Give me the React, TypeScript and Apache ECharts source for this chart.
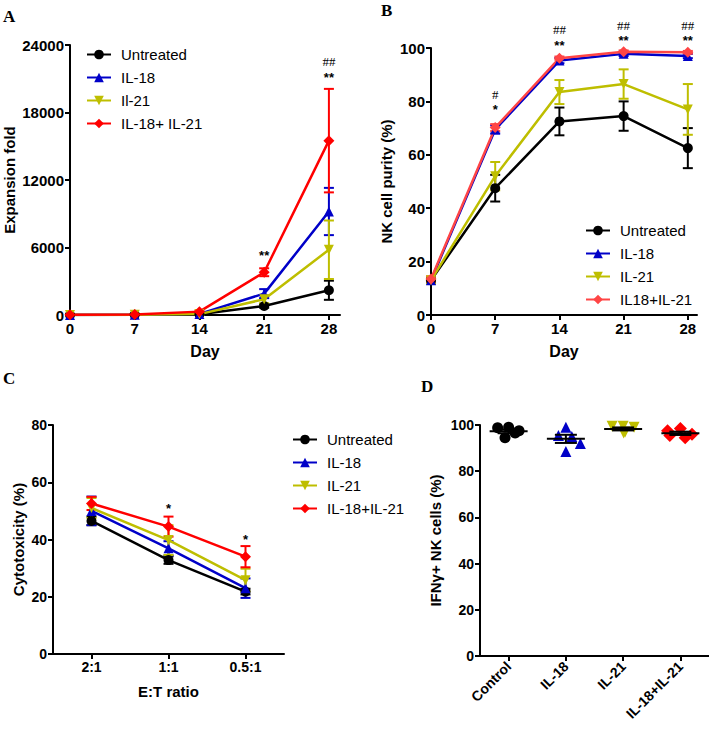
import React, { useEffect, useRef } from 'react';
import * as echarts from 'echarts';

// ---------- data ----------
const days = [0, 7, 14, 21, 28];
const dayTicks = [0, 7, 14, 21, 28];

// Panel A: expansion fold (mean, sem)
const expUntreated = [10, 20, 60, 800, 2200];
const expUntreatedErr = [0, 0, 50, 150, 850];
const expIL18 = [10, 20, 100, 1900, 9200];
const expIL18Err = [0, 0, 50, 400, 2100];
const expIL21 = [10, 20, 80, 1400, 5800];
const expIL21Err = [0, 0, 50, 350, 2600];
const expCombo = [20, 50, 300, 3800, 15500];
const expComboErr = [0, 0, 80, 350, 4600];
const annotA = [
  { x: 21, y: 5250, t: '**', serif: false },
  { x: 28, y: 22500, t: '##', serif: true },
  { x: 28, y: 21150, t: '**', serif: false },
];

// Panel B: NK purity
const purUntreated = [13, 47.5, 72.5, 74.5, 62.5];
const purUntreatedErr = [1.2, 5, 5.2, 5.5, 7.5];
const purIL18 = [13, 69.5, 95.3, 97.8, 97];
const purIL18Err = [1, 1.5, 1, 0.8, 0.8];
const purIL21 = [13, 52, 83.5, 86.5, 77];
const purIL21Err = [1, 5.3, 4.5, 5.5, 9.5];
const purCombo = [13.5, 70.2, 96.2, 98.6, 98.4];
const purComboErr = [1, 1.3, 0.6, 0.5, 0.5];
const annotB = [
  { x: 7, y: 82.4, t: '#', serif: true },
  { x: 7, y: 77.0, t: '*', serif: false },
  { x: 14, y: 107.1, t: '##', serif: true },
  { x: 14, y: 100.9, t: '**', serif: false },
  { x: 21, y: 108.6, t: '##', serif: true },
  { x: 21, y: 102.8, t: '**', serif: false },
  { x: 28, y: 108.6, t: '##', serif: true },
  { x: 28, y: 102.8, t: '**', serif: false },
];

// Panel C: cytotoxicity
const ratios = ['2:1', '1:1', '0.5:1'];
const cytUntreated = [46.5, 32.8, 21.8];
const cytUntreatedErr = [1.5, 1.3, 1];
const cytIL18 = [50, 36.9, 23];
const cytIL18Err = [5, 2.5, 3.4];
const cytIL21 = [51, 39.8, 25.8];
const cytIL21Err = [3.5, 5.2, 4];
const cytCombo = [52.6, 44.5, 34];
const cytComboErr = [2.3, 3.5, 3.7];
const annotC = [
  { x: 1, y: 51, t: '*', serif: false },
  { x: 2, y: 40, t: '*', serif: false },
];

// Panel D: IFNg+ NK cells
const groupsD = ['Control', 'IL-18', 'IL-21', 'IL-18+IL-21'];
const ifnControl = [99, 98.8, 97.5, 96.5, 94.5];
const ifnIL18 = [99, 95.5, 95, 92, 88.5];
const ifnIL21 = [99.5, 99.5, 99, 97, 96.5];
const ifnCombo = [98.5, 97.5, 96, 95.5, 94.5];

const legendA = ['Untreated', 'IL-18', 'Il-21', 'IL-18+ IL-21'];
const legendB = ['Untreated', 'IL-18', 'IL-21', 'IL18+IL-21'];
const legendC = ['Untreated', 'IL-18', 'IL-21', 'IL-18+IL-21'];

// ---------- styles ----------
const BLACK = '#000000';
const BLUE = '#0000c8';
const YELLOW = '#bebe00';
const RED = '#ff0000';
const RED_B = '#ff4545';
const SANS = 'Liberation Sans, Arial, sans-serif';
const SERIF = 'Liberation Serif, Times New Roman, serif';

const errRender = (capW: number) => (params: any, api: any) => {
  const x = api.value(0);
  const lo = api.coord([x, api.value(1)]);
  const hi = api.coord([x, api.value(2)]);
  const style = { stroke: api.visual('color'), lineWidth: 2 };
  return {
    type: 'group',
    children: [
      { type: 'line', shape: { x1: lo[0], y1: lo[1], x2: hi[0], y2: hi[1] }, style },
      { type: 'line', shape: { x1: lo[0] - capW, y1: lo[1], x2: lo[0] + capW, y2: lo[1] }, style },
      { type: 'line', shape: { x1: hi[0] - capW, y1: hi[1], x2: hi[0] + capW, y2: hi[1] }, style },
    ],
  };
};

function lineWithErr(
  name: string,
  xs: (number | string)[],
  vals: number[],
  errs: number[],
  color: string,
  symbol: string,
  symbolSize: number,
  axis: number,
  symbolRotate = 0,
  categorical = false,
) {
  const data = vals.map((v, i) => [categorical ? i : xs[i], v]);
  return [
    {
      type: 'custom',
      name: name + '__err' + axis,
      xAxisIndex: axis,
      yAxisIndex: axis,
      renderItem: errRender(5),
      itemStyle: { color },
      data: vals.map((v, i) => [categorical ? i : xs[i], v - errs[i], v + errs[i]]),
      encode: { x: 0, y: [1, 2] },
      silent: true,
    },
    {
      type: 'line',
      name,
      xAxisIndex: axis,
      yAxisIndex: axis,
      data,
      symbol,
      symbolSize,
      symbolRotate,
      showAllSymbol: true,
      lineStyle: { color, width: 2.5 },
      itemStyle: { color },
      color,
      silent: true,
    },
  ];
}

function annotSeries(list: { x: number; y: number; t: string; serif: boolean }[], axis: number) {
  return {
    type: 'scatter',
    name: 'annot' + axis,
    xAxisIndex: axis,
    yAxisIndex: axis,
    symbolSize: 0,
    clip: false,
    z: 10,
    itemStyle: { color: '#000', opacity: 0 },
    silent: true,
    data: list.map((a) => ({
      value: [a.x, a.y],
      label: {
        show: true,
        position: 'inside',
        formatter: a.t,
        color: '#000',
        opacity: 1,
        fontSize: 13,
        lineHeight: 13,
        fontWeight: a.serif ? 'normal' : 'bold',
        fontFamily: a.serif ? SERIF : SANS,
      },
    })),
  };
}

const plainNum = (v: number) => String(v);

const axisCommon = (labelSize: number) => ({
  axisLine: { show: true, onZero: false, lineStyle: { color: BLACK, width: 2 } },
  axisTick: { show: true, length: 5, inside: false, lineStyle: { color: BLACK, width: 2 } },
  axisLabel: { color: BLACK, fontWeight: 'bold', fontFamily: SANS, fontSize: labelSize, margin: 6, formatter: plainNum },
  splitLine: { show: false },
  nameTextStyle: { color: BLACK, fontWeight: 'bold', fontFamily: SANS, fontSize: 15 },
  nameLocation: 'middle',
});

const legendCommon = (data: string[], left: number, top: number) => ({
  data,
  orient: 'vertical',
  left,
  top,
  padding: 0,
  itemWidth: 24,
  itemHeight: 12,
  itemGap: 8,
  selectedMode: false,
  textStyle: { color: BLACK, fontFamily: SANS, fontSize: 15, padding: [0, 0, 0, 5] },
});

function mean(a: number[]) {
  return a.reduce((s, v) => s + v, 0) / a.length;
}
function sem(a: number[]) {
  const m = mean(a);
  const sd = Math.sqrt(a.reduce((s, v) => s + (v - m) * (v - m), 0) / (a.length - 1));
  return sd / Math.sqrt(a.length);
}

export default function App() {
  const ref = useRef<HTMLDivElement>(null);
  useEffect(() => {
    if (!ref.current) return;
    const chart = echarts.init(ref.current, undefined, { renderer: 'svg' });

    const groupValsD = [ifnControl, ifnIL18, ifnIL21, ifnCombo];
    const groupColorsD = [BLACK, BLUE, YELLOW, RED];
    const groupSymbolsD = ['circle', 'triangle', 'triangle', 'diamond'];
    const groupRotD = [0, 0, 180, 0];

    const dScatter = groupValsD.map((vals, gi) => ({
      type: 'scatter',
      name: 'D-' + groupsD[gi],
      xAxisIndex: 3,
      yAxisIndex: 3,
      symbol: groupSymbolsD[gi],
      symbolRotate: groupRotD[gi],
      symbolSize: gi === 3 ? 13 : 11,
      itemStyle: { color: groupColorsD[gi], opacity: 1 },
      silent: true,
      data: vals.map((v) => [gi, v]),
    }));

    const dMeans = {
      type: 'custom',
      name: 'D-means',
      xAxisIndex: 3,
      yAxisIndex: 3,
      z: 5,
      silent: true,
      data: groupValsD.map((vals, gi) => [gi, mean(vals), sem(vals)]),
      renderItem: (params: any, api: any) => {
        const x = api.value(0);
        const m = api.value(1);
        const s = api.value(2);
        const pm = api.coord([x, m]);
        const ph = api.coord([x, m + s]);
        const pl = api.coord([x, m - s]);
        const st = { stroke: BLACK, lineWidth: 2 };
        return {
          type: 'group',
          children: [
            { type: 'line', shape: { x1: pm[0] - 19, y1: pm[1], x2: pm[0] + 19, y2: pm[1] }, style: st },
            { type: 'line', shape: { x1: ph[0] - 11, y1: ph[1], x2: ph[0] + 11, y2: ph[1] }, style: st },
            { type: 'line', shape: { x1: pl[0] - 11, y1: pl[1], x2: pl[0] + 11, y2: pl[1] }, style: st },
            { type: 'line', shape: { x1: ph[0], y1: ph[1], x2: pl[0], y2: pl[1] }, style: st },
          ],
        };
      },
    };

    const option: any = {
      animation: false,
      backgroundColor: '#ffffff',
      grid: [
        { left: 70, top: 45, width: 270, height: 270 },
        { left: 431, top: 48, width: 266, height: 267 },
        { left: 53, top: 425, width: 231, height: 229 },
        { left: 480, top: 425, width: 229, height: 231 },
      ],
      xAxis: [
        {
          ...axisCommon(15),
          gridIndex: 0,
          type: 'value',
          min: 0,
          max: 29.2,
          name: 'Day',
          nameGap: 28,
          nameTextStyle: { color: BLACK, fontWeight: 'bold', fontFamily: SANS, fontSize: 16 },
          axisTick: { show: true, length: 5, lineStyle: { color: BLACK, width: 2 }, customValues: dayTicks },
          axisLabel: { color: BLACK, fontWeight: 'bold', fontFamily: SANS, fontSize: 15, margin: 6, customValues: dayTicks, formatter: plainNum },
        },
        {
          ...axisCommon(15),
          gridIndex: 1,
          type: 'value',
          min: 0,
          max: 29,
          name: 'Day',
          nameGap: 28,
          nameTextStyle: { color: BLACK, fontWeight: 'bold', fontFamily: SANS, fontSize: 16 },
          axisTick: { show: true, length: 5, lineStyle: { color: BLACK, width: 2 }, customValues: dayTicks },
          axisLabel: { color: BLACK, fontWeight: 'bold', fontFamily: SANS, fontSize: 15, margin: 6, customValues: dayTicks, formatter: plainNum },
        },
        {
          ...axisCommon(14),
          gridIndex: 2,
          type: 'category',
          data: ratios,
          boundaryGap: true,
          name: 'E:T ratio',
          nameGap: 30,
          axisTick: { show: true, alignWithLabel: true, length: 5, lineStyle: { color: BLACK, width: 2 } },
          axisLabel: { color: BLACK, fontWeight: 'bold', fontFamily: SANS, fontSize: 14, margin: 6 },
        },
        {
          ...axisCommon(13),
          gridIndex: 3,
          type: 'category',
          data: groupsD,
          boundaryGap: true,
          jitter: 30,
          jitterOverlap: false,
          jitterMargin: 0,
          axisTick: { show: true, alignWithLabel: true, length: 5, lineStyle: { color: BLACK, width: 2 } },
          axisLabel: { color: BLACK, fontWeight: 'bold', fontFamily: SANS, fontSize: 14, rotate: 45, margin: 8, interval: 0 },
        },
      ],
      yAxis: [
        { ...axisCommon(15), gridIndex: 0, type: 'value', min: 0, max: 24000, interval: 6000, name: 'Expansion fold', nameGap: 53 },
        { ...axisCommon(15), gridIndex: 1, type: 'value', min: 0, max: 100, interval: 20, name: 'NK cell purity (%)', nameGap: 37 },
        { ...axisCommon(14), gridIndex: 2, type: 'value', min: 0, max: 80, interval: 20, name: 'Cytotoxicity (%)', nameGap: 27 },
        { ...axisCommon(14), gridIndex: 3, type: 'value', min: 0, max: 100, interval: 20, name: 'IFNγ+ NK cells (%)', nameGap: 37 },
      ],
      legend: [legendCommon(legendA, 86, 47), legendCommon(legendB, 585, 223), legendCommon(legendC, 292, 432)],
      graphic: [
        { type: 'text', left: 3, top: 8, style: { text: 'A', font: 'bold 17px ' + SERIF, fill: BLACK } },
        { type: 'text', left: 381, top: 2, style: { text: 'B', font: 'bold 17px ' + SERIF, fill: BLACK } },
        { type: 'text', left: 3, top: 370, style: { text: 'C', font: 'bold 17px ' + SERIF, fill: BLACK } },
        { type: 'text', left: 421, top: 378, style: { text: 'D', font: 'bold 17px ' + SERIF, fill: BLACK } },
      ],
      series: [
        ...lineWithErr('Untreated', days, expUntreated, expUntreatedErr, BLACK, 'circle', 10, 0),
        ...lineWithErr('IL-18', days, expIL18, expIL18Err, BLUE, 'triangle', 10, 0),
        ...lineWithErr('Il-21', days, expIL21, expIL21Err, YELLOW, 'triangle', 10, 0, 180),
        ...lineWithErr('IL-18+ IL-21', days, expCombo, expComboErr, RED, 'diamond', 11, 0),
        annotSeries(annotA, 0),

        ...lineWithErr('Untreated', days, purUntreated, purUntreatedErr, BLACK, 'circle', 10, 1),
        ...lineWithErr('IL-18', days, purIL18, purIL18Err, BLUE, 'triangle', 10, 1),
        ...lineWithErr('IL-21', days, purIL21, purIL21Err, YELLOW, 'triangle', 10, 1, 180),
        ...lineWithErr('IL18+IL-21', days, purCombo, purComboErr, RED_B, 'diamond', 11, 1),
        annotSeries(annotB, 1),

        ...lineWithErr('Untreated', ratios, cytUntreated, cytUntreatedErr, BLACK, 'circle', 10, 2, 0, true),
        ...lineWithErr('IL-18', ratios, cytIL18, cytIL18Err, BLUE, 'triangle', 10, 2, 0, true),
        ...lineWithErr('IL-21', ratios, cytIL21, cytIL21Err, YELLOW, 'triangle', 10, 2, 180, true),
        ...lineWithErr('IL-18+IL-21', ratios, cytCombo, cytComboErr, RED, 'diamond', 11, 2, 0, true),
        annotSeries(annotC, 2),

        ...dScatter,
        dMeans,
      ],
    };
    chart.setOption(option);
    return () => chart.dispose();
  }, []);
  return <div ref={ref} style={{ position: 'fixed', left: 0, top: 0, width: 709, height: 735, background: '#fff' }} />;
}
